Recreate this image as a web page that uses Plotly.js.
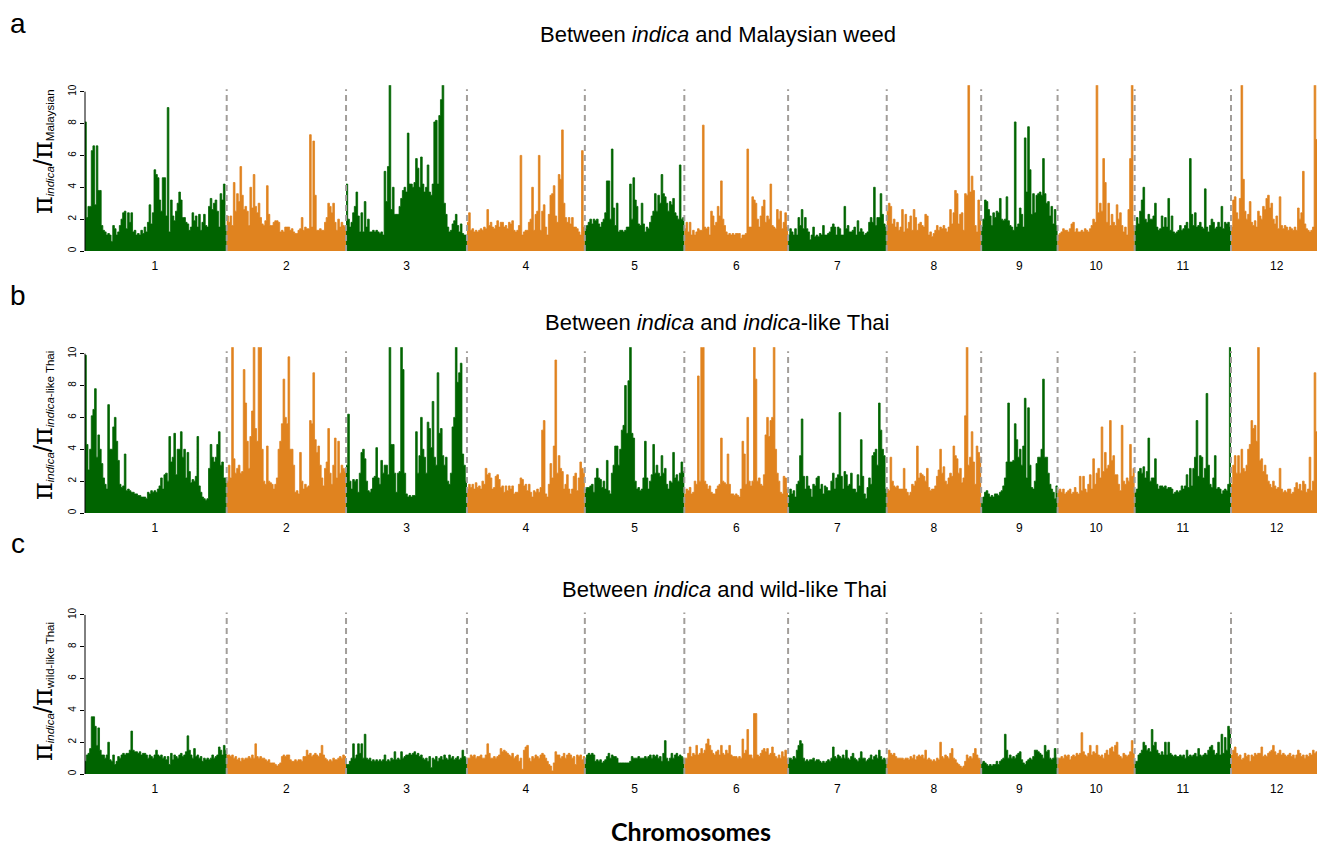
<!DOCTYPE html>
<html><head><meta charset="utf-8">
<script src="https://cdn.plot.ly/plotly-3.0.1.min.js"></script>
<style>html,body{margin:0;padding:0;background:#fff}#chart{width:1317px;height:847px}</style>
</head><body><div id="chart"></div>
<script>
// ---------------- DATA ----------------
const chromLabels = ['1','2','3','4','5','6','7','8','9','10','11','12'];
// rice chromosome lengths (Mb)
const chromLengthsMb = [43.27, 35.94, 36.41, 35.50, 29.96, 31.25, 29.70, 28.44, 23.01, 23.21, 29.02, 27.53];

// panel a: pi(indica) / pi(Malaysian weed), one value per window along each chromosome
const ratioMalaysian = [
 [2.0,8.1,2.1,2.8,2.8,6.3,6.6,2.9,6.6,3.8, 3.8,1.6,1.3,1.2,1.0,1.1,1.0,0.6,1.6,1.4, 1.0,1.2,1.6,2.0,2.4,2.5,1.4,2.4,1.8,2.4, 1.2,1.3,1.0,1.1,1.0,1.3,1.1,1.5,1.2,1.8, 2.9,1.7,2.4,5.1,4.8,4.6,3.2,2.5,4.6,4.6, 2.2,9.0,1.2,3.2,2.2,1.9,2.5,3.0,3.7,3.2, 2.1,2.1,1.8,1.7,1.3,1.5,2.4,1.9,2.2,1.5, 2.3,1.3,1.8,2.3,1.6,1.5,2.8,3.3,2.6,3.0, 3.2,2.5,1.5,3.6,3.2,4.2,1.6],
 [2.2,1.8,2.2,1.6,4.3,2.5,3.6,3.1,5.3,3.5, 2.6,2.8,2.5,1.6,4.0,2.7,4.8,2.8,2.4,3.0, 2.1,1.7,1.6,1.9,4.1,2.3,1.6,1.6,1.8,1.9, 1.9,1.8,1.2,1.3,1.2,1.5,1.5,1.5,1.3,1.4, 1.2,1.1,1.1,1.3,1.4,2.1,1.3,1.5,1.4,1.4, 7.3,1.5,6.9,3.5,1.3,1.3,1.4,1.3,1.3,1.8, 2.1,3.0,2.8,2.4,3.0,1.8,1.3,2.0,1.5,1.8, 1.6,1.5],
 [4.2,2.0,1.5,1.8,2.4,2.8,3.7,2.2,1.2,2.4, 1.2,3.1,1.5,2.0,1.2,1.2,1.3,1.2,1.3,1.2, 1.1,1.2,1.0,5.0,3.1,5.3,10.5,2.6,4.0,2.3, 2.3,2.3,2.8,3.3,3.8,4.0,3.7,7.4,4.2,4.2, 4.0,4.3,5.8,5.2,4.0,5.9,4.2,3.7,4.0,5.4, 3.7,3.5,4.2,8.1,8.2,4.2,8.5,9.5,10.5,3.0, 2.3,1.5,1.2,1.3,1.7,1.9,2.3,1.6,1.2,1.7, 1.1,1.0,1.0],
 [1.8,2.4,1.3,1.4,1.2,1.3,1.2,1.3,1.4,1.3, 1.5,1.4,2.6,1.6,1.8,1.5,1.4,1.6,1.9,1.5, 1.8,1.8,1.5,1.6,1.4,1.8,1.7,1.9,1.3,1.2, 1.3,1.6,6.0,1.0,1.2,1.3,1.3,1.8,2.0,4.0, 1.3,2.3,2.5,6.0,1.3,2.5,2.9,1.5,1.0,2.3, 3.5,3.6,4.1,2.2,1.8,4.8,4.5,7.6,3.0,2.1, 1.8,2.1,1.7,2.1,1.5,1.5,1.4,1.2,1.0,6.3, 1.5],
 [1.4,1.6,1.8,2.0,1.7,2.0,1.9,2.0,1.7,1.5, 1.8,2.0,2.4,4.4,4.4,2.0,6.4,2.7,1.6,3.0, 1.2,1.3,1.3,1.2,1.3,1.5,1.5,4.2,2.0,4.6, 3.2,2.8,1.7,1.6,3.0,1.7,1.2,1.5,1.4,1.8, 2.2,2.5,3.6,2.5,3.5,3.0,4.8,3.6,3.4,3.0, 2.5,3.1,2.9,3.3,2.4,2.2,2.0,5.4,2.0,2.1],
 [1.4,1.8,1.2,1.8,1.0,1.3,1.0,1.2,1.4,1.3, 1.3,7.9,1.5,1.4,1.5,1.0,2.5,2.2,1.6,1.8, 2.8,2.2,4.4,2.0,1.6,1.2,1.0,1.1,1.0,1.1, 1.0,1.1,1.1,1.1,0.8,1.0,1.0,1.1,6.4,1.5, 1.5,3.4,3.2,3.0,2.0,1.5,2.2,2.8,3.2,1.8, 2.2,2.0,4.2,1.6,1.5,1.4,2.6,2.0,2.5,1.4, 1.8,2.4,1.5],
 [1.0,1.4,1.2,1.0,1.4,1.0,2.1,1.6,2.6,1.4, 2.1,1.4,1.2,0.7,1.0,1.5,0.9,1.0,0.9,1.1, 1.0,1.6,1.0,1.0,1.1,1.2,1.5,1.7,1.5,1.0, 1.5,1.4,1.0,1.0,2.8,1.4,1.6,1.2,1.2,1.3, 1.5,1.0,1.9,1.2,1.4,1.2,1.0,1.1,1.2,1.8, 2.1,1.8,4.0,1.6,2.1,2.1,3.6,2.3,1.7,1.5],
 [2.5,3.0,2.8,1.7,2.0,1.5,1.8,1.3,1.5,2.6, 1.2,2.3,1.4,1.8,2.2,1.3,2.6,2.1,1.3,1.7, 1.8,1.6,1.5,2.3,2.2,1.0,1.2,0.9,1.1,1.3, 1.6,1.3,1.5,1.4,1.6,1.4,1.2,1.5,2.6,1.7, 2.4,3.8,3.6,1.7,2.3,2.4,1.3,3.6,3.5,10.5, 3.7,4.7,3.8,1.6,1.2,3.2,2.0],
 [1.5,2.0,3.2,3.1,2.6,2.2,1.6,2.4,2.1,2.5, 2.4,3.3,2.0,1.9,2.0,3.4,1.9,1.6,1.5,1.3, 8.1,1.5,1.7,2.7,2.3,1.5,7.1,3.7,7.8,5.1, 2.3,3.6,2.4,3.5,3.6,3.7,3.5,5.8,3.6,3.0, 3.1,2.2,2.8,1.7,2.6,1.6],
 [1.0,1.1,1.2,1.4,1.3,1.3,1.2,1.4,1.7,1.8, 1.2,1.4,1.2,1.2,1.3,1.2,1.4,1.3,1.2,1.4, 1.6,2.0,1.8,10.5,2.4,3.0,2.5,5.8,4.3,1.8, 3.0,1.6,2.3,1.8,1.6,2.9,2.0,2.4,1.6,1.2, 1.5,1.0,2.6,5.8,10.5,1.6],
 [1.6,2.1,1.7,2.5,3.2,4.0,2.0,1.8,2.3,2.0, 2.0,2.2,3.0,1.5,1.3,1.4,2.2,1.5,2.1,1.5, 3.3,1.3,2.2,1.2,1.1,1.2,1.3,1.6,1.3,1.4, 1.6,1.8,1.4,5.8,2.3,1.6,2.4,1.5,1.6,1.8, 1.5,1.4,3.9,1.5,1.2,1.6,2.0,1.8,1.4,1.5, 1.8,1.5,2.8,1.4,1.8,1.7,1.8,1.5],
 [1.5,3.2,3.4,2.4,2.0,3.3,10.5,4.5,2.5,2.0, 2.3,3.1,1.8,1.6,1.9,1.5,2.5,2.2,2.0,2.8, 2.6,3.3,3.5,2.7,3.0,2.0,1.7,2.2,1.4,3.4, 1.6,1.4,1.6,1.5,1.3,1.5,1.4,1.3,1.5,1.3, 2.7,2.0,2.4,5.0,1.7,1.4,1.3,1.2,1.3,1.5, 10.5,7.0,2.0,1.6,1.5]
];

// panel b: pi(indica) / pi(indica-like Thai)
const ratioIndicaLikeThai = [
 [4.3,9.9,4.3,2.7,4.0,6.1,6.5,7.8,3.5,4.9, 4.0,3.1,2.2,1.8,1.5,6.8,4.0,4.0,5.4,6.0, 4.5,3.3,1.8,1.6,1.7,3.7,1.4,1.5,1.4,1.3, 1.3,1.2,1.2,1.1,1.1,1.0,1.0,1.0,0.9,1.3, 1.2,1.4,1.3,1.4,1.3,1.5,1.7,2.2,1.5,2.4, 2.5,2.0,4.8,3.2,3.5,5.0,2.4,4.0,4.0,5.1, 3.5,4.0,2.2,3.8,2.6,1.9,2.1,2.0,2.3,4.8, 1.7,1.3,1.0,0.9,0.8,0.9,2.8,4.3,3.5,3.2, 3.5,4.3,5.1,3.0,3.2,2.2,2.2],
 [2.0,3.0,2.2,10.5,3.4,2.5,2.8,3.0,2.5,2.6, 9.0,6.9,4.5,2.8,4.8,6.4,10.5,5.3,4.5,10.5, 10.5,4.0,2.0,1.8,4.2,2.0,1.9,1.8,1.5,1.8, 2.2,4.0,4.5,5.6,8.4,6.0,5.6,9.8,4.0,4.0, 3.0,1.3,1.4,1.2,3.8,2.0,1.5,1.8,1.6,1.7, 5.8,5.6,8.8,4.6,3.8,4.2,3.0,2.2,1.7,2.8, 3.2,5.3,2.5,1.8,3.0,4.7,2.2,4.5,2.5,3.0, 2.8,2.6],
 [3.0,6.2,2.0,1.5,2.1,2.0,2.1,1.3,2.5,3.8, 4.0,3.4,2.0,1.4,1.3,1.5,2.2,2.3,4.1,2.2, 1.8,3.3,2.5,3.0,3.0,2.4,10.5,4.3,4.3,2.5, 1.3,2.5,2.6,10.5,9.0,2.5,1.2,1.0,1.1,1.0, 1.1,1.1,5.1,2.5,3.6,6.0,4.0,3.5,2.5,5.7, 5.3,4.1,7.0,3.5,3.0,8.8,5.0,5.3,3.6,3.0, 3.5,2.0,1.8,2.5,5.4,6.0,10.5,8.2,8.8,9.4, 3.7,3.0,2.0],
 [1.5,1.8,1.6,1.8,1.5,1.9,1.6,1.7,1.5,2.0, 1.8,2.8,2.4,2.5,2.2,1.5,1.6,2.3,2.4,2.1, 1.6,1.7,1.3,1.7,1.4,1.7,1.5,1.7,1.2,1.3, 1.3,1.8,2.2,2.1,1.7,1.8,1.4,1.8,1.3,1.0, 1.4,1.3,1.5,1.3,1.6,5.2,5.8,1.2,1.0,1.8, 3.1,2.2,4.2,9.6,2.5,3.6,2.8,2.6,1.5,1.8, 2.4,1.5,1.2,1.5,2.3,2.5,1.4,2.2,3.2,2.8, 2.5],
 [1.5,1.6,1.6,1.7,1.8,1.3,2.2,2.8,2.2,2.1, 1.6,2.0,1.5,3.3,1.4,1.2,2.5,3.0,4.2,4.2, 3.0,4.0,5.2,5.5,8.0,5.0,8.3,10.5,5.0,4.7, 2.0,1.5,1.6,1.4,1.5,2.2,4.5,2.2,1.5,2.0, 2.4,4.3,2.5,3.0,2.5,2.3,3.6,2.5,2.8,1.8, 1.5,2.0,1.9,3.8,2.2,2.4,2.0,2.5,3.2,2.6],
 [1.2,1.5,1.4,1.6,1.2,1.3,2.0,1.8,8.6,2.0, 10.5,10.5,2.0,1.8,1.5,1.7,1.3,1.2,1.2,1.5, 1.7,1.8,4.7,2.0,1.9,1.8,3.7,1.8,1.2,1.2, 1.1,1.2,1.1,1.0,1.5,4.5,3.7,1.8,6.0,2.0, 1.7,2.0,10.5,8.4,2.0,2.2,1.8,1.7,2.4,4.9, 6.0,4.8,5.8,6.0,10.5,4.0,2.5,2.0,1.3,1.2, 2.3,2.2,1.5],
 [1.1,1.5,1.2,1.4,1.0,1.8,2.0,3.6,5.9,2.3, 1.5,2.3,1.7,1.5,1.0,1.8,1.7,2.2,2.3,1.5, 1.8,1.2,1.7,1.6,1.4,1.4,2.0,2.5,1.5,2.2, 2.4,6.3,2.3,1.5,2.6,2.4,1.7,1.8,2.5,1.5, 1.5,1.3,2.4,1.7,4.6,2.3,1.2,0.9,1.6,2.2, 1.8,3.6,3.8,4.0,3.0,6.9,5.2,4.0,3.6,1.5],
 [1.5,1.4,3.5,2.0,1.7,1.6,1.7,1.5,1.5,1.5, 2.8,1.5,1.3,1.1,1.3,1.8,1.7,2.0,4.2,2.2, 2.5,2.4,2.3,2.0,2.8,1.6,1.4,1.5,1.5,1.7, 2.3,2.7,4.0,2.5,2.9,2.0,1.8,2.2,2.5,2.3, 4.2,3.6,3.4,2.5,2.8,1.9,2.2,6.1,10.5,3.0, 3.5,5.1,3.2,1.8,4.2,3.8,3.5],
 [0.6,1.0,1.3,1.4,1.2,1.0,1.1,1.0,1.2,1.2, 1.1,1.3,1.4,1.7,2.2,3.2,6.9,3.2,3.2,3.3, 5.6,4.6,3.5,4.0,3.0,4.2,7.2,2.2,6.6,3.0, 1.6,1.5,2.0,3.1,3.5,3.5,4.0,8.4,3.5,3.5, 2.5,1.8,1.5,1.3,0.9,1.7],
 [1.4,1.5,1.3,1.5,1.2,1.3,1.4,1.5,1.2,1.3, 1.6,1.3,1.2,2.3,1.4,2.3,1.5,1.3,1.8,2.4, 1.5,3.4,1.8,2.5,2.8,2.2,5.4,2.6,3.8,2.8, 3.0,5.8,3.3,3.6,2.4,2.4,1.8,1.4,5.5,2.0, 1.8,2.2,2.0,4.3,2.3,2.8],
 [1.3,1.5,2.6,2.8,2.5,2.9,2.2,2.6,4.7,2.0, 2.2,2.2,3.4,1.8,1.5,1.7,1.7,1.6,1.7,1.5, 1.6,1.6,1.5,1.2,1.3,1.4,1.3,1.4,1.7,1.5, 1.7,2.4,1.6,2.8,1.7,2.8,3.5,5.8,2.3,3.6, 3.5,2.2,2.8,7.5,3.0,1.8,1.6,2.2,3.6,1.5, 1.6,1.5,1.2,1.4,1.5,1.4,1.8,10.5],
 [1.8,3.0,3.6,2.5,3.6,2.5,4.0,2.8,2.6,3.0, 4.0,4.3,5.8,5.3,5.5,4.5,10.5,3.3,3.4,2.6, 3.0,2.4,2.0,1.8,1.6,2.0,1.7,1.5,1.6,2.8, 1.5,1.3,1.4,1.3,1.5,1.5,1.2,1.3,1.6,1.9, 1.5,1.8,1.4,2.0,1.8,1.3,1.5,3.5,1.4,2.0, 8.8,5.1,2.0,1.8,1.5]
];

// panel c: pi(indica) / pi(wild-like Thai)
const ratioWildLikeThai = [
 [0.6,0.8,1.2,1.3,1.6,3.6,3.6,3.0,1.8,2.9, 1.5,1.2,1.2,1.0,1.2,2.0,0.9,0.8,1.2,0.6, 0.8,1.1,1.0,1.2,1.3,1.2,1.3,1.3,1.5,2.7, 1.5,1.4,1.4,1.3,1.4,1.2,1.3,1.3,1.2,1.0, 1.2,1.1,1.0,1.2,1.5,1.2,1.1,1.2,1.0,1.1, 0.9,1.1,0.6,1.3,0.9,1.2,1.1,1.0,1.2,1.3, 1.1,1.2,1.4,2.4,1.5,1.2,1.0,1.6,1.1,1.2, 1.0,1.1,0.8,1.0,0.9,1.0,0.9,1.0,1.2,1.0, 1.1,1.2,1.7,1.5,1.2,1.8,1.5],
 [1.2,1.2,1.1,1.2,1.0,1.1,0.9,1.0,0.8,1.0, 0.9,1.0,1.0,1.1,1.0,1.2,1.0,1.9,1.1,1.0, 1.1,1.0,1.0,0.9,0.8,0.9,0.7,0.7,0.7,0.6, 0.5,0.6,0.7,1.1,1.2,1.1,1.2,1.2,0.9,0.8, 0.8,0.9,0.8,0.9,0.9,0.8,1.1,1.1,1.5,1.2, 1.3,1.1,1.2,1.3,1.2,1.1,1.3,1.8,1.2,1.0, 0.9,0.8,0.9,0.8,1.0,0.9,0.9,1.0,1.1,1.0, 1.2,1.1],
 [0.6,0.6,0.8,1.0,1.9,1.0,1.2,1.9,1.3,1.9, 1.0,2.5,1.0,0.9,1.0,0.8,0.9,0.8,0.9,0.8, 0.9,0.8,0.9,1.2,0.8,0.9,0.8,1.0,0.9,1.4, 0.9,1.0,0.9,1.4,1.0,1.1,1.2,1.2,1.3,1.2, 1.3,1.4,1.2,1.3,1.1,1.2,1.0,0.9,1.0,0.8, 1.1,0.4,1.0,0.9,1.1,0.8,1.0,1.1,0.9,1.2, 1.0,0.9,1.2,1.0,1.1,0.9,1.0,1.1,0.9,1.0, 1.5,1.1,1.0],
 [1.0,1.0,1.2,1.1,1.2,1.0,1.1,1.1,1.2,1.0, 1.0,1.2,1.9,1.3,1.0,1.0,1.1,1.0,1.1,1.2, 1.6,1.4,1.5,1.4,1.3,1.2,1.1,1.3,1.0,1.1, 1.2,0.8,1.0,0.3,1.5,1.7,1.8,1.0,0.8,1.1, 1.0,1.2,1.1,1.0,1.2,1.3,1.2,1.0,0.8,0.6, 0.5,0.2,0.7,1.4,1.2,1.2,1.0,1.1,1.3,1.0, 1.2,1.3,1.2,1.0,1.1,0.6,1.2,1.1,1.2,0.9, 1.1],
 [1.0,1.2,1.3,1.2,1.3,1.2,0.8,0.9,0.8,0.9, 0.7,0.8,0.9,1.1,1.3,1.0,1.2,1.1,1.1,1.0, 0.7,0.7,0.7,0.7,0.7,0.7,0.7,0.8,1.1,1.0, 1.0,1.0,1.1,1.0,1.0,1.0,1.1,1.0,1.1,1.2, 1.0,1.2,1.1,1.2,1.0,1.1,0.8,1.3,2.1,1.0, 0.8,1.0,1.3,1.0,1.2,1.3,1.1,1.2,1.1,1.0],
 [1.0,1.0,1.3,1.7,1.1,1.3,1.2,1.8,1.2,1.3, 1.6,1.3,1.5,1.9,2.2,1.8,1.5,1.3,1.2,1.4, 1.5,1.2,1.8,1.3,1.2,1.5,1.3,1.8,1.2,1.1, 1.1,1.1,1.0,1.1,1.0,2.2,1.3,1.5,2.8,1.2, 1.2,1.0,3.8,3.8,1.2,1.1,1.3,1.5,1.6,1.4, 1.6,1.2,1.3,1.7,1.3,1.1,1.0,1.2,1.0,1.4, 1.1,1.5,1.0],
 [1.0,1.0,0.9,1.1,1.0,1.5,1.8,2.1,1.9,1.0, 0.8,0.9,0.8,0.9,0.9,1.0,0.8,0.9,0.9,0.8, 0.7,0.8,0.7,0.8,0.9,0.8,1.0,1.7,1.1,1.0, 1.2,1.1,1.0,1.2,1.0,1.5,1.0,0.9,1.1,1.3, 1.0,0.9,0.8,1.0,1.4,1.0,1.0,0.8,0.9,1.0, 1.2,0.9,1.1,1.2,1.0,1.5,1.1,0.9,1.0,0.9],
 [1.0,1.5,1.3,1.2,1.3,1.1,1.0,1.0,1.0,1.0, 0.9,1.0,1.0,0.9,1.1,1.0,1.2,0.9,1.1,1.2, 1.1,1.2,1.0,1.5,0.9,1.0,0.9,0.8,0.9,0.8, 1.0,0.9,2.0,1.1,1.0,1.2,1.1,1.0,1.3,1.6, 1.0,0.9,0.7,0.6,0.5,0.4,0.5,0.8,1.2,1.0, 1.1,1.0,1.3,1.6,1.2,1.0,0.9],
 [0.7,0.8,0.7,0.6,0.5,0.6,0.5,0.6,0.6,0.8, 0.6,0.8,0.9,1.0,2.5,1.5,1.0,1.2,1.0,1.1, 1.0,1.2,1.3,1.4,0.9,0.7,0.6,0.8,0.9,1.0, 0.9,1.1,1.5,1.5,1.4,1.3,1.2,1.0,1.8,1.4, 1.5,1.0,0.9,1.0,1.6,1.0],
 [1.0,1.0,1.1,1.0,1.2,1.1,1.2,0.9,1.1,1.2, 1.1,1.3,1.2,1.3,2.6,1.4,1.2,1.1,1.3,1.8, 1.2,1.4,1.3,1.8,1.2,1.1,1.2,1.0,1.3,1.5, 1.2,1.6,1.7,1.4,1.8,2.0,1.2,1.1,1.0,1.3, 1.2,1.1,1.2,1.4,2.1,1.3],
 [0.8,0.8,1.2,1.3,1.5,2.0,1.8,1.5,1.6,1.4, 2.8,1.8,2.0,1.5,1.3,1.2,1.4,1.2,2.0,1.2, 2.0,1.3,1.2,1.1,1.2,1.1,1.1,1.2,1.1,1.2, 1.0,1.5,1.1,1.2,1.1,1.2,1.3,1.1,1.6,1.2, 1.1,1.2,1.3,1.2,1.5,1.7,1.8,1.5,1.2,1.3, 2.0,1.2,2.5,1.3,2.3,1.5,3.0,2.8],
 [1.2,1.5,1.7,1.3,1.1,1.2,0.9,1.0,1.3,1.1, 1.2,0.8,1.2,1.1,1.3,1.2,1.3,1.3,1.7,1.1, 1.2,1.1,1.3,1.4,1.5,1.8,1.4,1.2,1.3,1.5, 1.2,1.3,1.2,1.1,1.2,1.3,1.1,1.2,1.0,1.2, 1.5,1.3,1.1,1.2,1.0,1.2,1.1,1.3,1.2,1.5, 1.3,1.4,1.2,1.1,1.2]
];

const yTicks = [0, 2, 4, 6, 8, 10];

// ---------------- BUILD ----------------
const GREEN = '#006400', ORANGE = '#E0831F';
const FONT = 'Liberation Sans, Arial, sans-serif';
const offsets = [];
let acc = 0;
chromLengthsMb.forEach(l => { offsets.push(acc); acc += l; });
const centers = chromLengthsMb.map((l, i) => offsets[i] + l / 2);

function panelTraces(data, sfx) {
  return data.map((vals, c) => {
    const step = chromLengthsMb[c] / vals.length;
    const x = [], y = [];
    vals.forEach((v, k) => { x.push(offsets[c] + k * step); y.push(v); });
    x.push(offsets[c] + chromLengthsMb[c]); y.push(vals[vals.length - 1]);
    const col = c % 2 === 0 ? GREEN : ORANGE;
    return {
      type: 'scatter', mode: 'lines', x, y,
      xaxis: 'x' + sfx, yaxis: 'y' + sfx,
      line: { shape: 'hv', color: col, width: 0.8 },
      fill: 'tozeroy', fillcolor: col,
      hoverinfo: 'skip', showlegend: false
    };
  });
}

const traces = [].concat(
  panelTraces(ratioMalaysian, ''),
  panelTraces(ratioIndicaLikeThai, '2'),
  panelTraces(ratioWildLikeThai, '3')
);

const xRange = [0.6, 371.6];
function xCfg(anchor) {
  return {
    domain: [0, 1], anchor, range: xRange, tickvals: centers, ticktext: chromLabels,
    ticks: '', showline: false, showgrid: false, zeroline: false,
    tickfont: { size: 12, color: '#000', family: FONT }
  };
}
function yCfg(domain, anchor) {
  return {
    domain, anchor, range: [-0.4, 10.4], tickvals: yTicks, ticktext: yTicks.map(String),
    ticks: 'outside', ticklen: 4, tickwidth: 1, tickcolor: '#000', tickangle: -90,
    tickfont: { size: 10, color: '#000', family: FONT },
    showline: false, showgrid: false, zeroline: false
  };
}

const shapes = [];
['', '2', '3'].forEach(s => {
  shapes.push({ type: 'line', xref: 'x' + s + ' domain', yref: 'y' + s, x0: 0, x1: 0, y0: 0, y1: 10,
    line: { color: '#000', width: 1 } });
  for (let c = 1; c < chromLengthsMb.length; c++) {
    shapes.push({ type: 'line', xref: 'x' + s, yref: 'y' + s, x0: offsets[c], x1: offsets[c], y0: 0, y1: 10.15,
      line: { color: '#A29E9A', width: 2, dash: '6px,4px' }, layer: 'above' });
  }
});

const PI = '<span style="font-family:DejaVu Serif;font-size:27px">π</span>';
const SL = '<span style="font-size:26px">/</span>';
function sub(t) { return '<sub><span style="font-size:11.5px">' + t + '</span></sub>'; }

const W = 1317, H = 847, L = 85;
const px = x => (x - L) / (W - L);
const py = y => 1 - y / H;

const annotations = [
  { text: 'Between <i>indica</i> and Malaysian weed', x: px(718), y: py(35) },
  { text: 'Between <i>indica</i> and <i>indica</i>-like Thai', x: px(717.5), y: py(322) },
  { text: 'Between <i>indica</i> and wild-like Thai', x: px(724.5), y: py(589) }
].map(a => Object.assign(a, { xref: 'paper', yref: 'paper', xanchor: 'center', yanchor: 'middle',
  showarrow: false, font: { size: 22, color: '#000', family: FONT } }));

[['a', 23.3], ['b', 295.3], ['c', 543]].forEach(([t, y]) => annotations.push({
  text: t, x: px(18), y: py(y), xref: 'paper', yref: 'paper', xanchor: 'center', yanchor: 'middle',
  showarrow: false, font: { size: 28, color: '#000', family: FONT } }));

[[PI + sub('<i>indica</i>') + SL + PI + sub('Malaysian'), 152],
 [PI + sub('<i>indica</i>') + SL + PI + sub('<i>indica</i>-like Thai'), 426],
 [PI + sub('<i>indica</i>') + SL + PI + sub('wild-like Thai'), 692]].forEach(([t, y]) => annotations.push({
  text: t, x: px(42), y: py(y), xref: 'paper', yref: 'paper', xanchor: 'center', yanchor: 'middle',
  textangle: -90, showarrow: false, font: { size: 11, color: '#000', family: FONT } }));

annotations.push({ text: '<b>Chromosomes</b>', x: px(691), y: py(831), xref: 'paper', yref: 'paper',
  xanchor: 'center', yanchor: 'middle', showarrow: false,
  font: { size: 25, color: '#000', family: 'Lato, Open Sans, sans-serif' } });

const layout = {
  width: W, height: H,
  margin: { l: L, r: 0, t: 0, b: 0, pad: 0 },
  paper_bgcolor: '#fff', plot_bgcolor: '#fff',
  font: { family: FONT, color: '#000' },
  showlegend: false,
  xaxis: xCfg('y'), xaxis2: xCfg('y2'), xaxis3: xCfg('y3'),
  yaxis: yCfg([0.6961, 0.8993], 'x'),
  yaxis2: yCfg([0.3868, 0.5900], 'x2'),
  yaxis3: yCfg([0.0786, 0.2815], 'x3'),
  shapes, annotations
};

Plotly.newPlot('chart', traces, layout, { staticPlot: true, displayModeBar: false });
</script></body></html>
